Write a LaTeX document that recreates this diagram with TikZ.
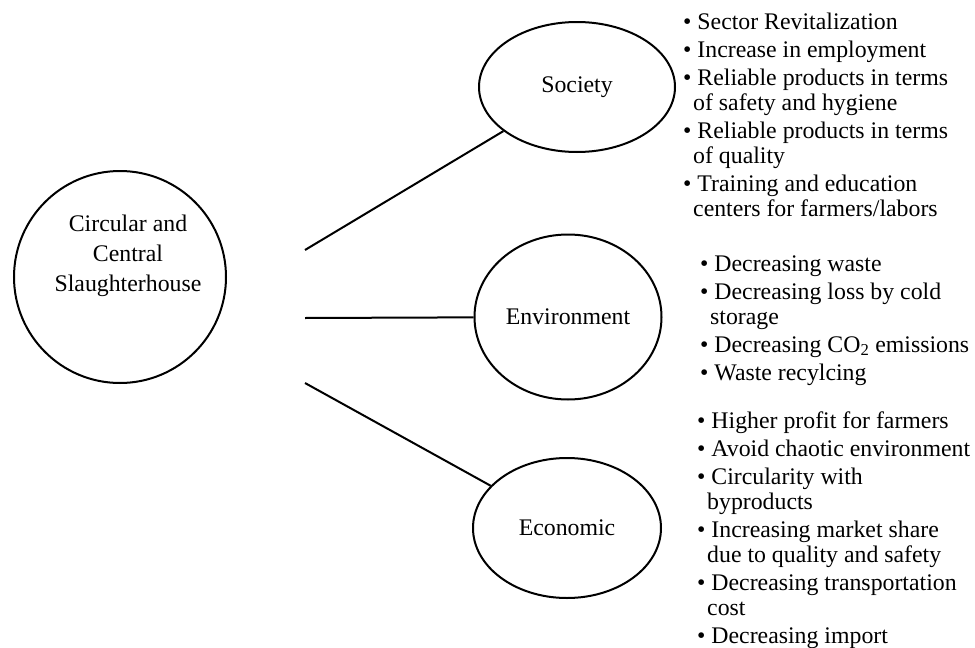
\documentclass[tikz,border=0pt]{standalone}
\usepackage{fontspec}
\setmainfont{Liberation Serif}
\usetikzlibrary{shapes.geometric}
\begin{document}
\begin{tikzpicture}[x=1pt,y=-1pt,
  every node/.style={font=\fontsize{23.8}{25}\selectfont},
  conn/.style={line width=2pt},
  hubshape/.style={circle,draw,line width=2pt,minimum size=212pt,inner sep=0pt},
  pillar/.style={ellipse,draw,line width=2pt,inner sep=0pt},
  listbox/.style={anchor=north west,align=left,inner sep=0pt}]
\useasboundingbox (0,0) rectangle (975,648);
% hub
\node[hubshape] (hub) at (120,277) {};
\node[anchor=north,align=center,inner sep=0pt,font=\fontsize{23.8}{30}\selectfont] (hubtext) at (128,210.7)
  {\strut Circular and\\Central\\Slaughterhouse};
% pillars
\node[pillar,minimum width=196pt,minimum height=130pt] (soc) at (577,87) {Society};
\node[pillar,minimum width=187pt,minimum height=165pt] (env) at (568,317) {Environment};
\node[pillar,minimum width=188pt,minimum height=140pt] (eco) at (567,528) {Economic};
% connectors
\coordinate (s1) at (305,250);
\coordinate (s2) at (305,318);
\coordinate (s3) at (305,383);
\draw[conn] (s1) -- (soc);
\draw[conn] (s2) -- (env);
\draw[conn] (s3) -- (eco);
% lists
\node[listbox] (soclist) at (683,11.5)
  {\strut\textbullet\ Sector Revitalization\\[3pt]
   \textbullet\ Increase in employment\\[3pt]
   \textbullet\ Reliable products in terms\\
   \hspace*{10pt}of safety and hygiene\\[3pt]
   \textbullet\ Reliable products in terms\\
   \hspace*{10pt}of quality\\[3pt]
   \textbullet\ Training and education\\
   \hspace*{10pt}centers for farmers/labors};
\node[listbox] (envlist) at (700,253.5)
  {\strut\textbullet\ Decreasing waste\\[3pt]
   \textbullet\ Decreasing loss by cold\\
   \hspace*{10pt}storage\\[3pt]
   \textbullet\ Decreasing CO\textsubscript{2} emissions\\[3pt]
   \textbullet\ Waste recylcing};
\node[listbox] (ecolist) at (697,410.5)
  {\strut\textbullet\ Higher profit for farmers\\[3pt]
   \textbullet\ Avoid chaotic environment\\[3pt]
   \textbullet\ Circularity with\\
   \hspace*{10pt}byproducts\\[3pt]
   \textbullet\ Increasing market share\\
   \hspace*{10pt}due to quality and safety\\[3pt]
   \textbullet\ Decreasing transportation\\
   \hspace*{10pt}cost\\[3pt]
   \textbullet\ Decreasing import};
\end{tikzpicture}
\end{document}
